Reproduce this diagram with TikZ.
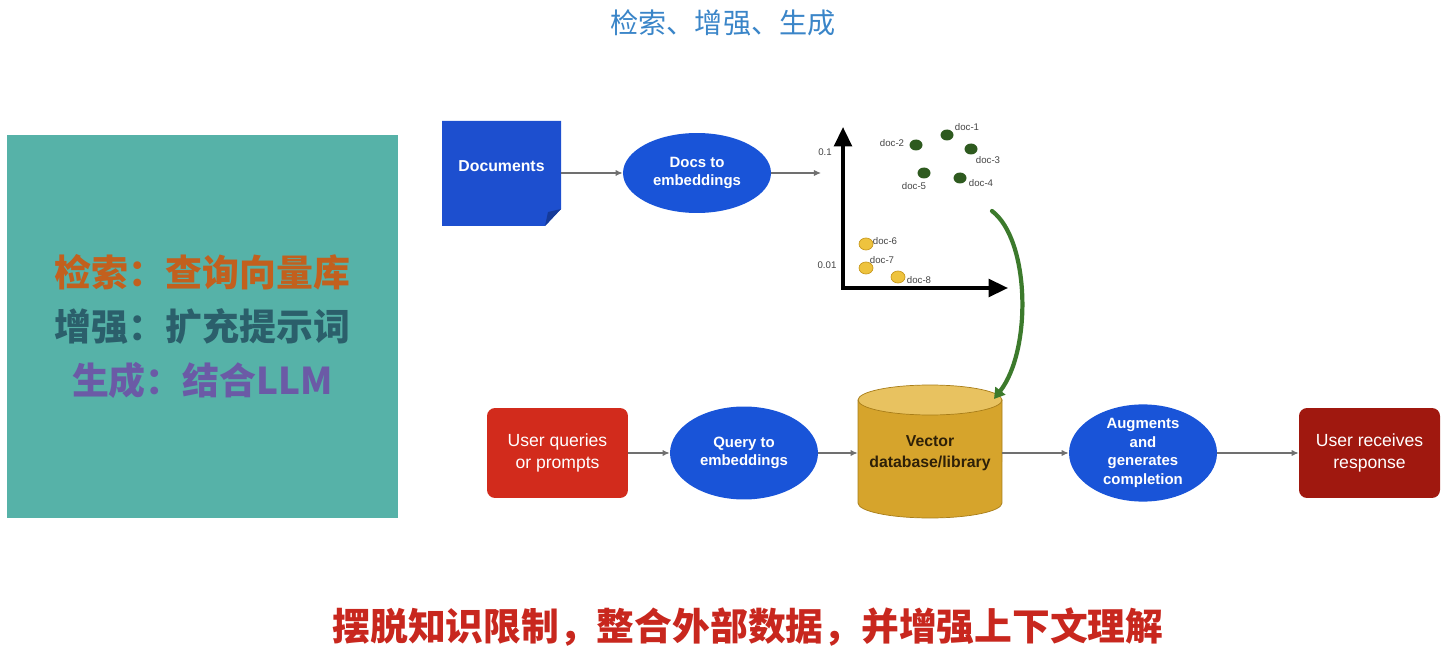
\documentclass[tikz,border=0pt]{standalone}
\usepackage{fontspec}
\setmainfont{Liberation Sans}
\newfontfamily\cjk{Noto Sans CJK SC}
\usetikzlibrary{arrows.meta,shapes.geometric}
\definecolor{titleblue}{HTML}{3A85C8}
\definecolor{tealbox}{HTML}{56B2A8}
\definecolor{ragorange}{HTML}{C2601E}
\definecolor{ragteal}{HTML}{2B5F6B}
\definecolor{ragpurple}{HTML}{6B5AA6}
\definecolor{docblue}{HTML}{1D4FCF}
\definecolor{folddark}{HTML}{153A99}
\definecolor{blobblue}{HTML}{1954D8}
\definecolor{qred}{HTML}{D22B1C}
\definecolor{rred}{HTML}{A0180F}
\definecolor{gold}{HTML}{D6A42C}
\definecolor{goldtop}{HTML}{E8C260}
\definecolor{golddark}{HTML}{A87D18}
\definecolor{dbtext}{HTML}{2E2008}
\definecolor{dotgreen}{HTML}{2E5A1F}
\definecolor{dotyellow}{HTML}{EEC33E}
\definecolor{dotedge}{HTML}{C99A1E}
\definecolor{linkgreen}{HTML}{3C7A2C}
\definecolor{arrowgray}{HTML}{707070}
\definecolor{tagtext}{HTML}{444444}
\definecolor{bottomred}{HTML}{C8271E}

\begin{document}
\begin{tikzpicture}[x=0.02cm,y=-0.02cm,
flow/.style={draw=arrowgray,line width=0.6pt,-{Latex[length=4pt,width=3.5pt]}},
blue blob/.style={ellipse,fill=blobblue,text=white,inner sep=0pt,align=center,minimum width=2.96cm,font=\bfseries\fontsize{8.5}{10.5}\selectfont},
red box/.style={rectangle,rounded corners=0.16cm,text=white,align=center,minimum width=2.82cm,minimum height=1.8cm,font=\fontsize{10}{12.5}\selectfont},
gdot/.style={ellipse,fill=dotgreen,minimum width=0.26cm,minimum height=0.22cm,inner sep=0pt},
ydot/.style={ellipse,fill=dotyellow,draw=dotedge,line width=0.4pt,minimum width=0.28cm,minimum height=0.24cm,inner sep=0pt},
tag/.style={font=\fontsize{5.5}{6}\selectfont,text=tagtext,inner sep=0pt}]
\useasboundingbox (0,0) rectangle (1449,658);
\node[text=titleblue,font=\cjk\fontsize{16}{18}\selectfont] (title) at (723,23) {检索、增强、生成};
\node[fill=tealbox,minimum width=7.82cm,minimum height=7.66cm,align=center,font=\cjk\bfseries\fontsize{21}{30.6}\selectfont] (rag) at (202.5,326.5)
{\textcolor{ragorange}{检索：查询向量库}\\\textcolor{ragteal}{增强：扩充提示词}\\\textcolor{ragpurple}{生成：结合LLM}};
\fill[docblue] (442,121)--(561,121)--(561,209)--(545,226)--(442,226)--cycle;
\fill[folddark] (545,226)--(548,212)--(561,209)--cycle;
\node[text=white,font=\bfseries\fontsize{9}{11}\selectfont,minimum width=2.38cm,minimum height=2.1cm] (docs) at (501.5,166) {Documents};
\node[blue blob,minimum height=1.6cm] (demb) at (697,173) {Docs to\\embeddings};
\coordinate (plot) at (821,173);
\draw[flow] (docs.east|-demb) -- (demb);
\draw[flow] (demb) -- (plot);
\coordinate (origin) at (843,288);
\draw[line width=2pt,{Triangle[length=11pt,width=10pt]}-{Triangle[length=11pt,width=10pt]}] (843,127) -- (origin) -- (1008,288);
\node[tag] (hi) at (825,152) {0.1};
\node[tag] (lo) at (827,265) {0.01};
\node[gdot] (d1) at (947,135) {}; \node[tag] (t1) at (967,127) {doc-1};
\node[gdot] (d2) at (916,145) {}; \node[tag] (t2) at (892,143) {doc-2};
\node[gdot] (d3) at (971,149) {}; \node[tag] (t3) at (988,160) {doc-3};
\node[gdot] (d4) at (960,178) {}; \node[tag] (t4) at (981,183) {doc-4};
\node[gdot] (d5) at (924,173) {}; \node[tag] (t5) at (914,186) {doc-5};
\node[ydot] (d6) at (866,244) {}; \node[tag] (t6) at (885,241) {doc-6};
\node[ydot] (d7) at (866,268) {}; \node[tag] (t7) at (882,260) {doc-7};
\node[ydot] (d8) at (898,277) {}; \node[tag] (t8) at (919,280) {doc-8};
\fill[gold,draw=golddark,line width=0.4pt] (858,400) -- (858,503) arc[start angle=180,end angle=360,x radius=1.44cm,y radius=0.3cm] -- (1002,400) -- cycle;
\filldraw[fill=goldtop,draw=golddark,line width=0.4pt] (930,400) ellipse[x radius=1.44cm,y radius=0.3cm];
\node[text=dbtext,align=center,font=\bfseries\fontsize{9}{12}\selectfont,minimum width=2.88cm,minimum height=2.3cm] (vdb) at (930,453) {Vector\\database/library};
\coordinate (store) at (992,211);
\coordinate (dbtop) at (994,399);
\draw[linkgreen,line width=2.4pt,line cap=round,-{Triangle[length=6pt,width=7pt]}] (store) .. controls (1030,240) and (1032,350) .. (dbtop);
\node[red box,fill=qred] (user) at (557.5,453) {User queries\\or prompts};
\node[blue blob,minimum height=1.86cm] (qemb) at (744,453) {Query to\\embeddings};
\node[blue blob,minimum height=1.9cm] (aug) at (1143,453) {Augments\\and\\generates\\completion};
\node[red box,fill=rred] (resp) at (1369.5,453) {User receives\\response};
\draw[flow] (user) -- (qemb);
\draw[flow] (qemb) -- (vdb);
\draw[flow] (vdb) -- (aug);
\draw[flow] (aug) -- (resp);
\node[text=bottomred,font=\cjk\bfseries\fontsize{21.5}{24}\selectfont] (gist) at (748,627) {摆脱知识限制，整合外部数据，并增强上下文理解};
\end{tikzpicture}
\end{document}
